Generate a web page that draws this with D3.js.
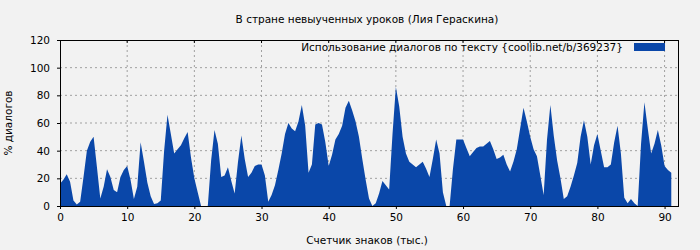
<!DOCTYPE html>
<html>
<head>
<meta charset="utf-8">
<script src="https://cdn.jsdelivr.net/npm/d3@7"></script>
<style>
  body { margin: 0; background: #f2f2f2; }
  svg { display: block; font-family: "DejaVu Sans", sans-serif; }
</style>
</head>
<body>
<div id="chart"></div>
<script>
// --- data: share of dialogue (%) sampled every 0.5 thousand characters
const title = 'В стране невыученных уроков (Лия Гераскина)';
const xLabel = 'Счетчик знаков (тыс.)';
const yLabel = '% диалогов';
const seriesName = 'Использование диалогов по тексту {coollib.net/b/369237}';
const STEP = 0.5;
const dialogShare = [
  16, 19, 23, 17.5, 4, 1, 3, 21, 40, 46.5, 50, 28, 5.5, 14, 26.5, 21, 11.5, 10, 21, 26,
  29, 19, 5, 14, 46, 32, 17, 7, 1.5, 2, 4, 40, 66, 52, 38, 41, 44, 49, 53.5, 35,
  20, 10, 0, 0, 0, 33, 55, 45, 21, 22, 28, 18, 9, 32, 51, 34, 21, 24, 29, 30,
  30, 22, 3, 8, 15, 26, 38, 52, 60, 56, 54, 61, 73, 58, 24, 30, 59, 60, 59, 46,
  29, 37, 48, 52, 58, 71, 76, 69, 61, 50, 34, 19, 5.5, 0, 2, 9, 18, 15, 12, 52,
  86, 72, 50, 38, 32, 30, 28, 30, 32, 27, 21, 34, 48, 38, 10, 0, 0, 27, 48, 48,
  48, 42, 36, 39, 42, 43, 43, 45, 47, 41, 34, 35, 37, 30, 25, 32, 41, 56, 71, 61,
  50, 41, 36, 22, 8, 48, 73, 51, 33, 20, 5, 7, 14, 22, 31, 50, 62, 50, 30, 44,
  52, 40, 28, 28, 30, 46, 58, 38, 6, 2, 5, 2, 0, 45, 75, 56, 38, 45, 55, 44,
  29, 26, 24
];
const xTicks = [0, 10, 20, 30, 40, 50, 60, 70, 80, 90];
const yTicks = [0, 20, 40, 60, 80, 100, 120];

const width = 700, height = 250;
const margin = { top: 40, right: 22, bottom: 44, left: 60 };
const innerW = width - margin.left - margin.right;
const innerH = height - margin.top - margin.bottom;
const fillColor = '#0a47a9';
const fontSize = '10.5px';

const svg = d3.select('#chart').append('svg')
  .attr('width', width)
  .attr('height', height);

svg.append('rect').attr('width', width).attr('height', height).attr('fill', '#f2f2f2');

const g = svg.append('g').attr('transform', `translate(${margin.left},${margin.top})`);

const x = d3.scaleLinear().domain([0, 92]).range([0, innerW]);
const y = d3.scaleLinear().domain([0, 120]).range([innerH, 0]);

const points = dialogShare.map((v, i) => ({ k: i * STEP, v }));

// grid
g.append('g').selectAll('line')
  .data(yTicks.filter(t => t > 0 && t < 120))
  .join('line')
  .attr('x1', 0).attr('x2', innerW)
  .attr('y1', d => y(d)).attr('y2', d => y(d))
  .attr('stroke', '#a0a0a0').attr('stroke-dasharray', '2,3');

g.append('g').selectAll('line')
  .data(xTicks.filter(t => t > 0))
  .join('line')
  .attr('x1', d => x(d)).attr('x2', d => x(d))
  .attr('y1', 0).attr('y2', innerH)
  .attr('stroke', '#a0a0a0').attr('stroke-dasharray', '2,3');

// area
const area = d3.area()
  .x(d => x(d.k))
  .y0(y(0))
  .y1(d => y(d.v));

g.append('path')
  .datum(points)
  .attr('fill', fillColor)
  .attr('d', area);

// axes
const xAxis = g.append('g')
  .attr('transform', `translate(0,${innerH})`)
  .call(d3.axisBottom(x).tickValues(xTicks).tickSize(3).tickSizeOuter(0));
const yAxis = g.append('g')
  .call(d3.axisLeft(y).tickValues(yTicks).tickSize(3).tickSizeOuter(0));
[xAxis, yAxis].forEach(a => {
  a.select('.domain').remove();
  a.selectAll('text').attr('fill', '#000').style('font-size', fontSize).style('font-family', '"DejaVu Sans", sans-serif');
  a.selectAll('line').attr('stroke', '#000');
});
xAxis.selectAll('text').attr('dy', '0.9em');
yAxis.selectAll('text').attr('x', -10);

// mirror ticks on top
g.append('g').selectAll('line')
  .data(xTicks.filter(t => t > 0))
  .join('line')
  .attr('x1', d => x(d)).attr('x2', d => x(d))
  .attr('y1', 0).attr('y2', 3)
  .attr('stroke', '#000');

// frame
g.append('rect')
  .attr('x', 0.5).attr('y', 0.5)
  .attr('width', innerW).attr('height', innerH)
  .attr('fill', 'none').attr('stroke', '#000');

// legend
g.append('text')
  .attr('x', 563).attr('y', 11)
  .attr('text-anchor', 'end')
  .style('font-size', fontSize)
  .text(seriesName);
g.append('rect')
  .attr('x', 574).attr('y', 3)
  .attr('width', 31).attr('height', 8)
  .attr('fill', fillColor);

// titles
svg.append('text')
  .attr('x', 367).attr('y', 23)
  .attr('text-anchor', 'middle')
  .style('font-size', fontSize)
  .text(title);

svg.append('text')
  .attr('x', 367).attr('y', 244)
  .attr('text-anchor', 'middle')
  .style('font-size', fontSize)
  .text(xLabel);

svg.append('text')
  .attr('transform', `translate(12,${margin.top + innerH / 2}) rotate(-90)`)
  .attr('text-anchor', 'middle')
  .style('font-size', fontSize)
  .text(yLabel);
</script>
</body>
</html>
